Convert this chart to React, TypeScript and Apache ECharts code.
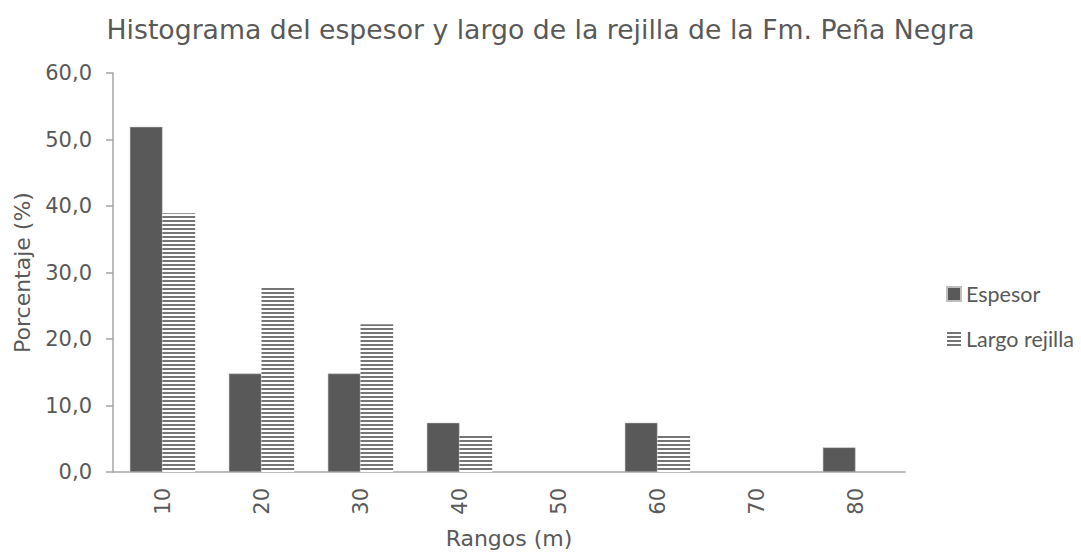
import React, { useEffect, useRef } from "react";
import * as echarts from "echarts";

const categories = ["10", "20", "30", "40", "50", "60", "70", "80"];
const espesor = [51.9, 14.8, 14.8, 7.4, 0, 7.4, 0, 3.7];
const largoRejilla = [38.9, 27.8, 22.2, 5.6, 0, 5.6, 0, 0];
const titleText = "Histograma del espesor y largo de la rejilla de la Fm. Peña Negra";
const seriesNames = ["Espesor", "Largo rejilla"];

const stripeSvg =
  'data:image/svg+xml;charset=utf-8,' +
  encodeURIComponent(
    '<svg xmlns="http://www.w3.org/2000/svg" width="4" height="4"><rect width="4" height="4" fill="#ffffff"/><rect width="4" height="2" fill="#757575"/></svg>'
  );

export default function App() {
  const ref = useRef<HTMLDivElement>(null);
  useEffect(() => {
    if (!ref.current) return;
    const chart = echarts.init(ref.current, null, { renderer: "svg" });
    const txt = "#595959";
    const font = "DejaVu Sans";
    const stripe: any = { image: stripeSvg, repeat: "repeat", imageWidth: 4, imageHeight: 4 };
    chart.setOption({
      animation: false,
      backgroundColor: "#ffffff",
      title: {
        text: titleText,
        left: "center",
        top: 11,
        textStyle: { fontFamily: font, fontSize: 26.7, fontWeight: "normal", color: txt },
      },
      legend: {
        orient: "vertical",
        left: 946,
        top: 283,
        padding: 0,
        itemWidth: 14,
        itemHeight: 14,
        itemGap: 23,
        icon: "rect",
        textStyle: { fontFamily: "Lato", fontSize: 21.5, color: txt },
        data: seriesNames,
      },
      grid: { left: 113, right: 176, top: 73, bottom: 80, containLabel: false },
      xAxis: {
        type: "category",
        data: categories,
        name: "Rangos (m)",
        nameLocation: "middle",
        nameGap: 55,
        nameTextStyle: { fontFamily: font, fontSize: 22, color: txt },
        axisLine: { lineStyle: { color: "#a6a6a6", width: 1.5 } },
        axisTick: { show: false },
        axisLabel: { rotate: 90, margin: 16, fontFamily: font, fontSize: 21, color: txt },
      },
      yAxis: {
        type: "value",
        min: 0,
        max: 60,
        interval: 10,
        name: "Porcentaje (%)",
        nameLocation: "middle",
        nameGap: 80,
        nameTextStyle: { fontFamily: font, fontSize: 22, color: txt },
        axisLine: { show: true, lineStyle: { color: "#a6a6a6", width: 1.5 } },
        axisTick: { show: true, length: 7, lineStyle: { color: "#a6a6a6", width: 1.5 } },
        splitLine: { show: false },
        axisLabel: {
          margin: 21,
          fontFamily: font,
          fontSize: 21,
          color: txt,
          formatter: (v: number) => v.toFixed(1).replace(".", ","),
        },
      },
      series: [
        {
          name: seriesNames[0],
          type: "bar",
          data: espesor,
          barGap: "0%",
          barCategoryGap: "34%",
          itemStyle: { color: "#595959", borderColor: "#bfbfbf", borderWidth: 0.5 },
        },
        {
          name: seriesNames[1],
          type: "bar",
          data: largoRejilla,
          barGap: "0%",
          barCategoryGap: "34%",
          itemStyle: { color: stripe },
        },
      ],
    });
    return () => chart.dispose();
  }, []);
  return (
    <div
      ref={ref}
      style={{ position: "fixed", left: 0, top: 0, width: 1081, height: 554 }}
    />
  );
}
